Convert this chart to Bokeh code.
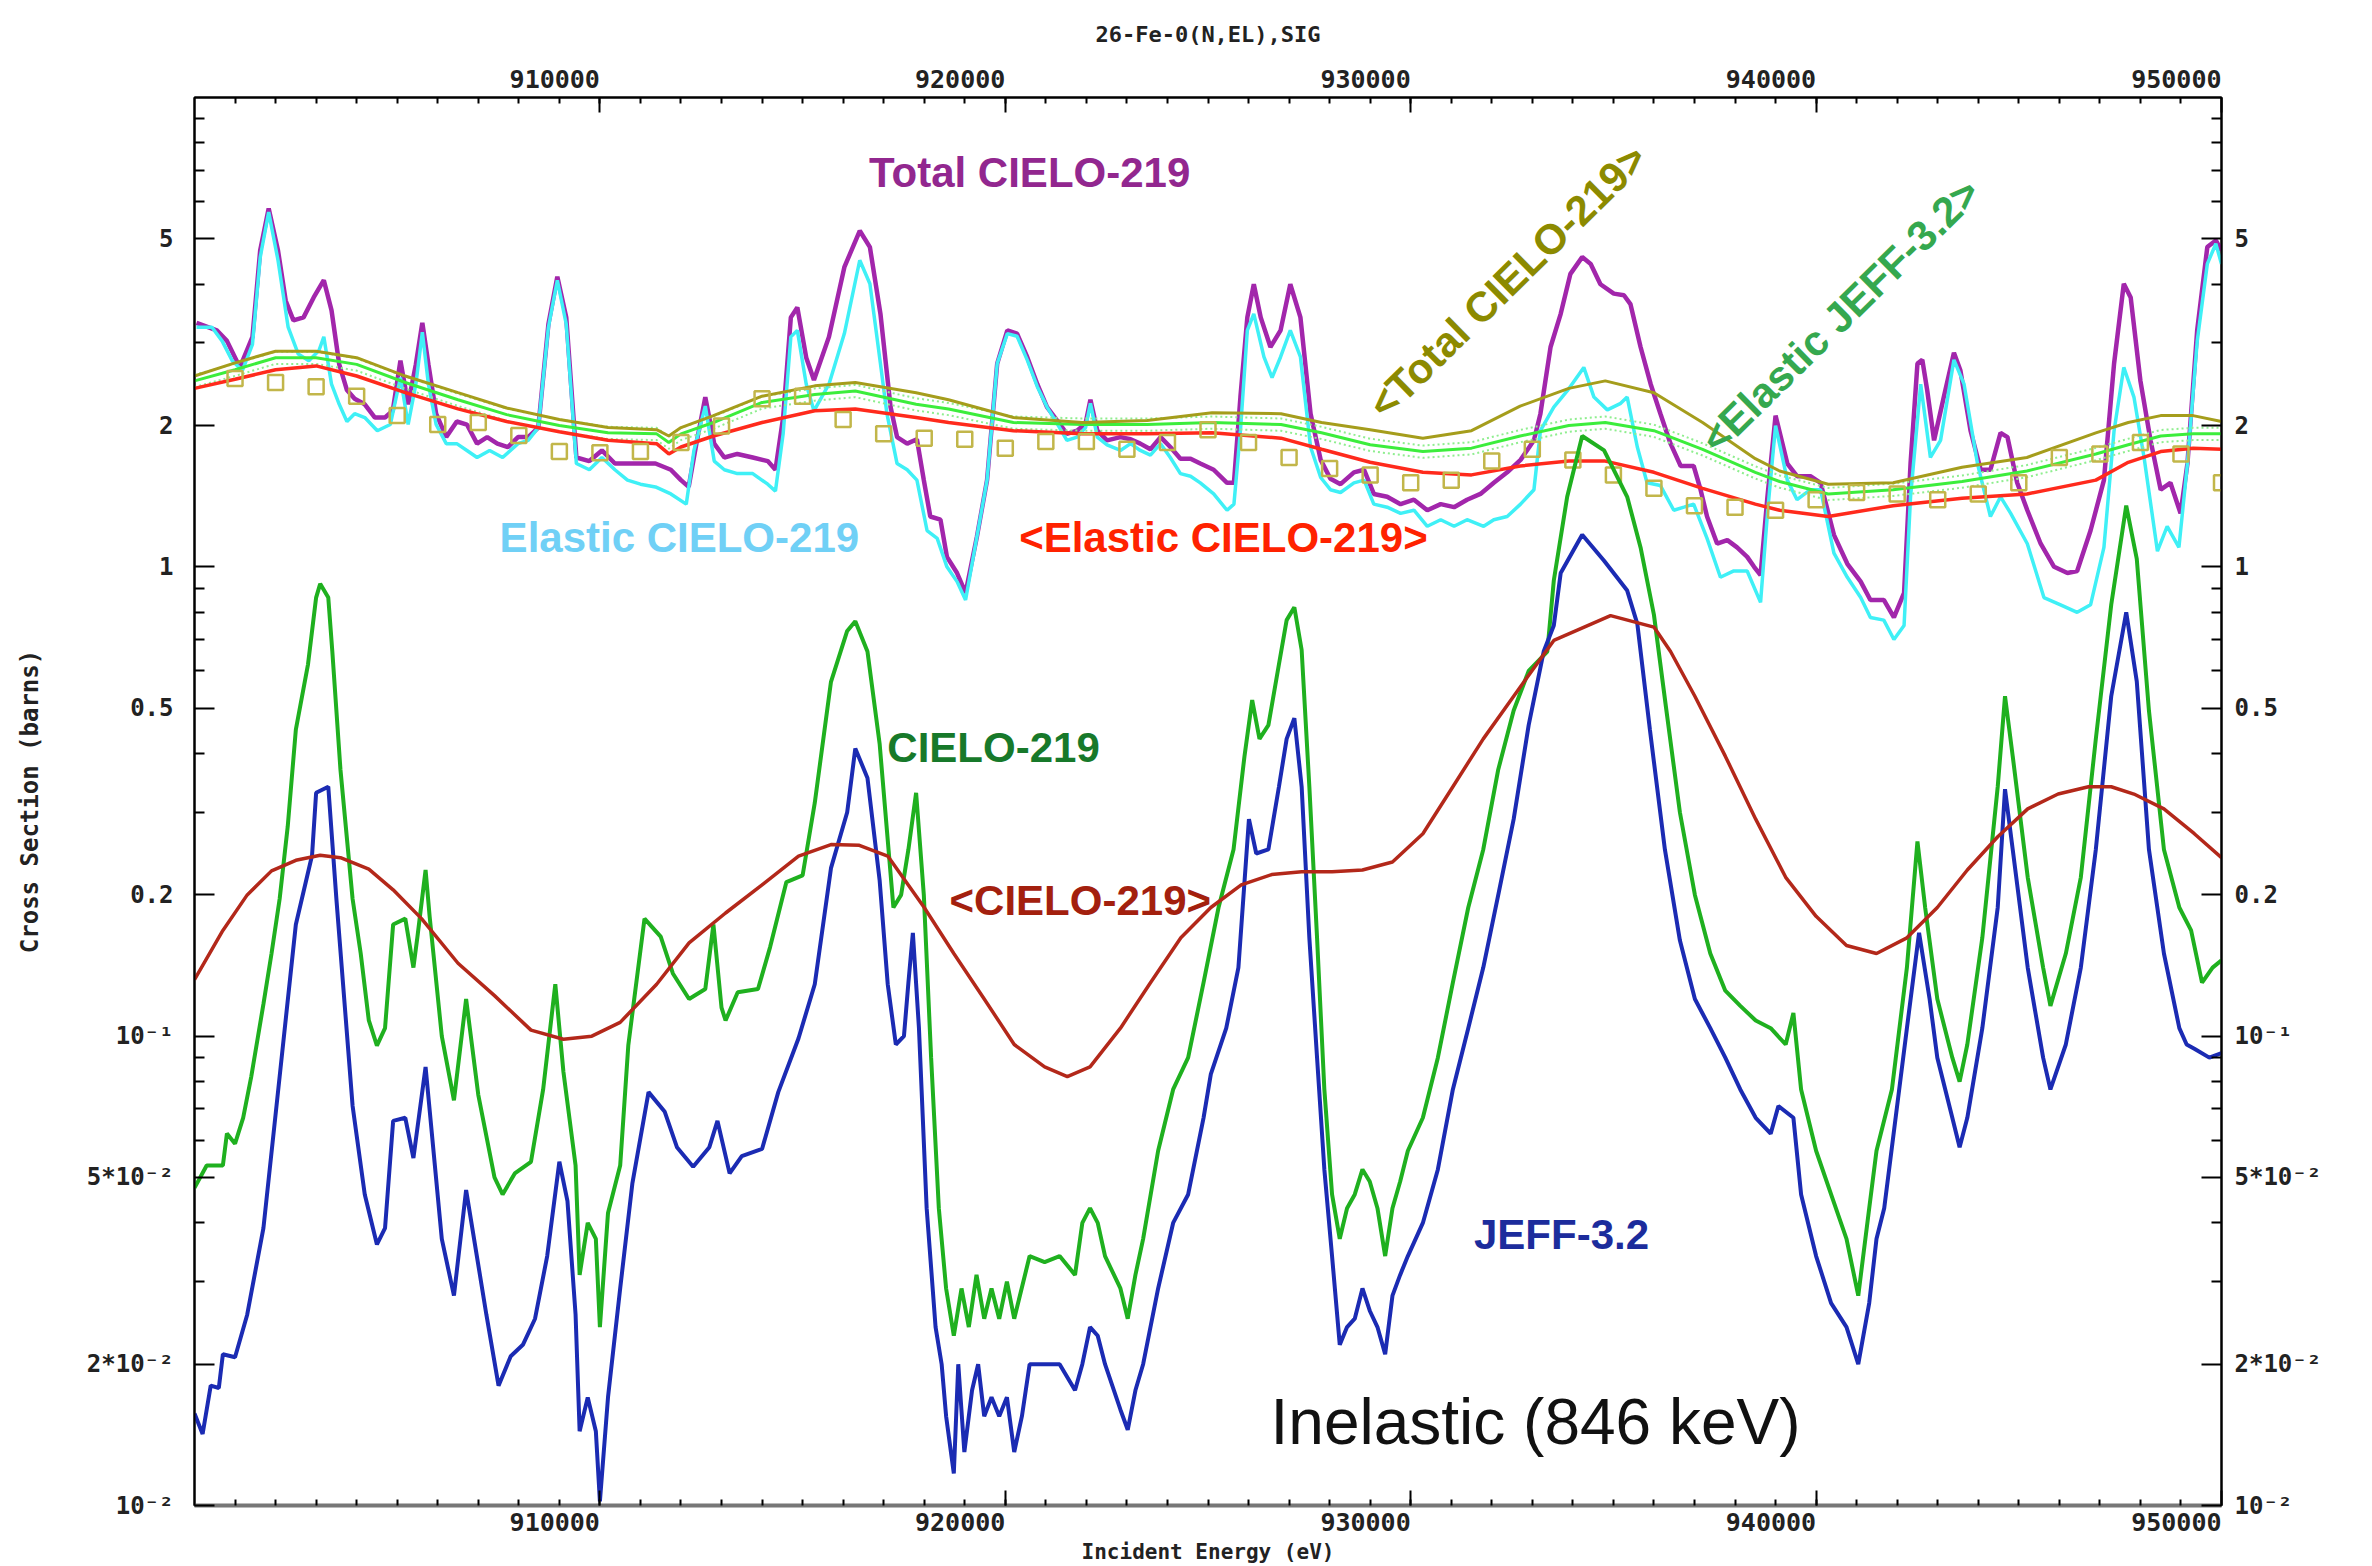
import numpy as np
from bokeh.plotting import figure
from bokeh.models import (LogAxis, LinearAxis, FixedTicker, Range1d, Label,
                          ColumnDataSource)
from bokeh.embed import file_html
from bokeh.resources import INLINE

# ---------------------------------------------------------------------------
# Energies in keV, cross sections in barns
# ---------------------------------------------------------------------------
total_e = [900.05, 900.55, 900.8, 901.12, 901.43, 901.62, 901.83, 902.06, 902.25, 902.44,
           902.69, 902.94, 903.19, 903.38, 903.57, 903.76, 903.95, 904.2, 904.45, 904.7,
           904.89, 905.08, 905.27, 905.46, 905.62, 905.77, 905.96, 906.21, 906.47, 906.72,
           906.97, 907.22, 907.47, 907.73, 907.98, 908.23, 908.48, 908.73, 908.95, 909.17,
           909.42, 909.74, 910.05, 910.37, 910.68, 911.0, 911.37, 911.75, 912.0, 912.19,
           912.38, 912.6, 912.82, 913.07, 913.39, 913.77, 914.14, 914.33, 914.52, 914.71,
           914.87, 915.09, 915.28, 915.65, 916.03, 916.41, 916.66, 916.92, 917.17, 917.33,
           917.58, 917.82, 917.99, 918.15, 918.4, 918.56, 918.81, 919.02, 919.3, 919.55,
           919.8, 920.05, 920.29, 920.54, 920.79, 921.03, 921.28, 921.52, 921.77, 921.98,
           922.1, 922.27, 922.51, 922.84, 923.09, 923.33, 923.58, 923.83, 924.07, 924.32,
           924.57, 924.81, 925.14, 925.47, 925.64, 925.8, 925.97, 926.13, 926.3, 926.54,
           926.79, 927.03, 927.28, 927.53, 927.78, 928.02, 928.27, 928.6, 928.85, 929.09,
           929.42, 929.75, 930.08, 930.41, 930.74, 931.07, 931.39, 931.72, 932.05, 932.38,
           932.71, 933.04, 933.2, 933.45, 933.7, 933.94, 934.23, 934.44, 934.68, 935.01,
           935.26, 935.42, 935.67, 935.92, 936.16, 936.41, 936.66, 936.98, 937.15, 937.31,
           937.56, 937.81, 938.05, 938.3, 938.47, 938.63, 938.8, 939.0, 939.29, 939.53,
           939.86, 940.11, 940.44, 940.77, 941.1, 941.34, 941.67, 941.92, 942.17, 942.33,
           942.5, 942.62, 942.74, 942.91, 943.15, 943.4, 943.56, 943.81, 944.06, 944.3,
           944.55, 944.72, 944.96, 945.21, 945.54, 945.87, 946.2, 946.44, 946.77, 947.1,
           947.35, 947.59, 947.76, 948.0, 948.25, 948.5, 948.74, 948.99, 949.16, 949.4,
           949.65, 949.86, 950.0]
total_xs = [3.31, 3.19, 3.03, 2.66, 3.09, 4.72, 5.8, 4.72, 3.69, 3.35,
            3.40, 3.75, 4.08, 3.52, 2.70, 2.38, 2.28, 2.22, 2.08, 2.08,
            2.15, 2.75, 2.22, 2.70, 3.31, 2.70, 2.12, 1.89, 2.04, 2.01,
            1.83, 1.89, 1.83, 1.80, 1.89, 1.89, 1.98, 3.29, 4.15, 3.40,
            1.71, 1.68, 1.77, 1.66, 1.66, 1.66, 1.66, 1.61, 1.53, 1.48,
            1.83, 2.30, 1.83, 1.71, 1.74, 1.71, 1.68, 1.61, 2.08, 3.40,
            3.57, 2.79, 2.50, 3.09, 4.35, 5.2, 4.8, 3.46, 2.19, 1.89,
            1.83, 1.87, 1.53, 1.28, 1.26, 1.05, 0.97, 0.88, 1.16, 1.53,
            2.71, 3.19, 3.14, 2.80, 2.45, 2.19, 2.05, 1.92, 1.95, 2.02,
            2.27, 1.95, 1.86, 1.89, 1.87, 1.83, 1.78, 1.89, 1.80, 1.70,
            1.70, 1.66, 1.61, 1.51, 1.51, 2.30, 3.40, 4.0, 3.40, 2.94,
            3.19, 4.0, 3.40, 2.12, 1.69, 1.54, 1.50, 1.59, 1.61, 1.43,
            1.41, 1.36, 1.39, 1.32, 1.36, 1.34, 1.39, 1.43, 1.51, 1.59,
            1.69, 1.86, 2.12, 2.94, 3.46, 4.21, 4.57, 4.42, 4.0, 3.82,
            3.79, 3.63, 2.94, 2.45, 2.12, 1.83, 1.64, 1.64, 1.46, 1.28,
            1.12, 1.14, 1.10, 1.05, 1.0, 0.96, 1.41, 2.10, 1.66, 1.56,
            1.56, 1.51, 1.17, 1.015, 0.93, 0.85, 0.85, 0.78, 0.88, 1.66,
            2.71, 2.76, 2.38, 1.86, 2.30, 2.86, 2.62, 1.95, 1.61, 1.61,
            1.93, 1.89, 1.51, 1.32, 1.12, 1.0, 0.97, 0.98, 1.195, 1.53,
            2.71, 4.01, 3.75, 2.49, 1.86, 1.46, 1.51, 1.30, 1.66, 3.19,
            4.80, 4.96, 4.72]

elastic_e = [900.05, 900.43, 900.68, 900.93, 901.18, 901.43, 901.62, 901.83, 902.06, 902.31,
             902.56, 902.82, 903.07, 903.19, 903.38, 903.57, 903.76, 903.95, 904.2, 904.51,
             904.83, 905.08, 905.27, 905.46, 905.62, 905.77, 905.96, 906.21, 906.47, 906.72,
             906.97, 907.28, 907.6, 907.98, 908.23, 908.48, 908.73, 908.95, 909.17, 909.42,
             909.74, 910.05, 910.37, 910.68, 911.0, 911.37, 911.75, 912.13, 912.32, 912.6,
             912.82, 913.07, 913.39, 913.77, 914.14, 914.33, 914.52, 914.71, 914.87, 915.09,
             915.28, 915.65, 916.03, 916.41, 916.66, 916.92, 917.08, 917.33, 917.58, 917.82,
             918.07, 918.32, 918.56, 918.81, 919.02, 919.3, 919.55, 919.8, 920.05, 920.29,
             920.54, 920.79, 921.03, 921.28, 921.52, 921.77, 921.98, 922.1, 922.27, 922.51,
             922.84, 923.09, 923.33, 923.58, 923.83, 924.07, 924.32, 924.57, 924.81, 925.14,
             925.47, 925.64, 925.8, 925.97, 926.13, 926.38, 926.58, 926.79, 927.03, 927.28,
             927.53, 927.78, 928.02, 928.27, 928.6, 928.85, 929.09, 929.42, 929.75, 930.08,
             930.41, 930.74, 931.07, 931.39, 931.8, 932.05, 932.38, 932.71, 933.04, 933.2,
             933.53, 933.86, 934.27, 934.52, 934.85, 935.18, 935.34, 935.59, 935.83, 936.16,
             936.49, 936.74, 936.98, 937.31, 937.64, 937.97, 938.3, 938.63, 938.8, 939.0,
             939.29, 939.53, 939.86, 940.11, 940.44, 940.77, 941.1, 941.34, 941.67, 941.92,
             942.17, 942.33, 942.58, 942.82, 943.07, 943.4, 943.65, 943.98, 944.3, 944.55,
             944.8, 945.21, 945.62, 946.03, 946.44, 946.77, 947.1, 947.35, 947.59, 947.84,
             948.09, 948.42, 948.66, 948.95, 949.16, 949.4, 949.65, 949.86, 950.0]
elastic_xs = [3.24, 3.24, 3.03, 2.75, 2.62, 2.98, 4.56, 5.7, 4.5, 3.24,
              2.84, 2.75, 2.89, 3.09, 2.45, 2.22, 2.04, 2.12, 2.08, 1.95,
              2.01, 2.53, 2.01, 2.45, 3.16, 2.45, 2.01, 1.83, 1.83, 1.77,
              1.71, 1.77, 1.71, 1.83, 1.86, 1.98, 3.24, 4.08, 3.29, 1.66,
              1.61, 1.71, 1.61, 1.53, 1.50, 1.48, 1.43, 1.36, 1.77, 2.20,
              1.68, 1.61, 1.58, 1.58, 1.50, 1.45, 1.92, 3.09, 3.19, 2.45,
              2.15, 2.45, 3.14, 4.5, 4.01, 2.71, 2.12, 1.66, 1.61, 1.53,
              1.195, 1.15, 1.0, 0.93, 0.85, 1.16, 1.53, 2.71, 3.14, 3.1,
              2.76, 2.42, 2.19, 2.02, 1.86, 1.89, 1.98, 2.23, 1.89, 1.82,
              1.77, 1.83, 1.77, 1.73, 1.83, 1.71, 1.58, 1.56, 1.51, 1.43,
              1.32, 1.36, 1.95, 3.19, 3.46, 2.80, 2.53, 2.80, 3.19, 2.80,
              1.80, 1.55, 1.46, 1.44, 1.51, 1.53, 1.36, 1.34, 1.30, 1.32,
              1.22, 1.26, 1.22, 1.26, 1.22, 1.26, 1.28, 1.36, 1.46, 1.95,
              2.19, 2.37, 2.66, 2.30, 2.16, 2.23, 2.30, 1.80, 1.51, 1.49,
              1.32, 1.34, 1.36, 1.15, 0.95, 0.98, 0.98, 0.84, 1.30, 2.0,
              1.53, 1.39, 1.46, 1.46, 1.07, 0.95, 0.86, 0.78, 0.77, 0.70,
              0.75, 1.41, 2.45, 1.71, 1.86, 2.76, 2.45, 1.66, 1.28, 1.41,
              1.30, 1.12, 0.86, 0.83, 0.80, 0.83, 1.10, 1.95, 2.66, 2.30,
              1.71, 1.08, 1.22, 1.10, 1.66, 3.02, 4.42, 4.88, 4.42]

# Group-averaged curves
avg_e = [900.0, 901.0, 902.0, 903.0, 904.0, 905.2, 906.5, 907.7, 909.0, 910.2,
         911.4, 911.7, 912.0, 912.8, 914.0, 915.3, 916.3, 917.8, 918.6, 920.2,
         921.9, 923.5, 925.1, 926.8, 927.8, 929.0, 930.3, 931.5, 932.7, 933.9,
         934.8, 936.0, 937.2, 938.5, 939.1, 940.3, 941.9, 943.6, 945.2, 946.9,
         947.7, 948.5, 949.3, 950.0]
avg_elastic_cielo = [2.40, 2.51, 2.63, 2.68, 2.55, 2.35, 2.17, 2.04, 1.94, 1.86,
                     1.83, 1.74, 1.80, 1.90, 2.03, 2.15, 2.17, 2.08, 2.03, 1.95,
                     1.92, 1.92, 1.93, 1.88, 1.78, 1.67, 1.59, 1.57, 1.64, 1.68,
                     1.68, 1.59, 1.47, 1.36, 1.32, 1.28, 1.35, 1.40, 1.43, 1.53,
                     1.67, 1.76, 1.79, 1.78]
avg_total_cielo = [2.55, 2.72, 2.88, 2.88, 2.79, 2.55, 2.35, 2.18, 2.06, 1.98,
                   1.96, 1.90, 1.98, 2.10, 2.31, 2.43, 2.47, 2.35, 2.27, 2.08,
                   2.03, 2.05, 2.13, 2.12, 2.03, 1.96, 1.88, 1.95, 2.20, 2.40,
                   2.49, 2.35, 2.03, 1.70, 1.60, 1.50, 1.51, 1.63, 1.71, 1.93,
                   2.03, 2.10, 2.10, 2.04]
avg_elastic_jeff = [2.49, 2.63, 2.79, 2.79, 2.70, 2.47, 2.27, 2.11, 2.00, 1.93,
                    1.92, 1.84, 1.92, 2.03, 2.24, 2.33, 2.37, 2.22, 2.17, 2.03,
                    2.01, 2.01, 2.03, 2.01, 1.93, 1.82, 1.76, 1.79, 1.90, 2.00,
                    2.03, 1.95, 1.78, 1.59, 1.52, 1.43, 1.46, 1.52, 1.60, 1.74,
                    1.82, 1.90, 1.92, 1.92]
jeff_band_frac = 0.03

# Binned elastic values, 1 keV steps
bin_e = list(range(901, 951))
bin_xs = [2.52, 2.47, 2.42, 2.31, 2.10, 2.01, 2.03, 1.905, 1.76, 1.75,
          1.76, 1.84, 1.995, 2.28, 2.31, 2.06, 1.92, 1.88, 1.87, 1.79,
          1.85, 1.85, 1.78, 1.84, 1.96, 1.84, 1.71, 1.62, 1.57, 1.51,
          1.53, 1.68, 1.78, 1.69, 1.57, 1.47, 1.35, 1.34, 1.32, 1.39,
          1.44, 1.43, 1.39, 1.43, 1.51, 1.71, 1.74, 1.84, 1.74, 1.51]

# Inelastic to the 846 keV level
inel_jeff_e = [900.0, 900.2, 900.4, 900.6, 900.7, 901.0, 901.3, 901.7, 902.1, 902.5,
               902.9, 903.0, 903.3, 903.5, 903.9, 904.2, 904.5, 904.7, 904.9, 905.2,
               905.4, 905.7, 906.1, 906.4, 906.7, 907.2, 907.5, 907.8, 908.1, 908.4,
               908.7, 909.0, 909.2, 909.4, 909.5, 909.7, 909.9, 910.0, 910.2, 910.5,
               910.8, 911.2, 911.6, 911.9, 912.3, 912.7, 912.9, 913.2, 913.5, 914.0,
               914.4, 914.9, 915.3, 915.7, 916.1, 916.3, 916.6, 916.9, 917.1, 917.3,
               917.5, 917.61, 917.72, 917.87, 918.06, 918.28, 918.43, 918.54, 918.73, 918.84,
               918.99, 919.18, 919.33, 919.48, 919.66, 919.85, 920.04, 920.22, 920.41, 920.6,
               920.97, 921.34, 921.72, 921.9, 922.09, 922.28, 922.46, 922.84, 923.02, 923.21,
               923.4, 923.77, 924.14, 924.51, 924.89, 925.07, 925.45, 925.75, 926.01, 926.19,
               926.49, 926.75, 926.94, 927.13, 927.31, 927.5, 927.69, 927.87, 928.06, 928.25,
               928.43, 928.62, 928.81, 928.99, 929.18, 929.37, 929.55, 929.74, 929.93, 930.3,
               930.67, 931.04, 931.42, 931.79, 932.16, 932.54, 932.91, 933.28, 933.53, 933.7,
               934.23, 934.77, 935.34, 935.59, 935.9, 936.27, 936.64, 937.01, 937.39, 937.76,
               938.13, 938.51, 938.88, 939.07, 939.44, 939.63, 940.0, 940.37, 940.75, 941.04,
               941.31, 941.49, 941.68, 941.87, 942.24, 942.54, 942.8, 942.99, 943.36, 943.54,
               943.73, 944.1, 944.48, 944.66, 944.85, 945.22, 945.6, 945.78, 946.16, 946.53,
               946.9, 947.28, 947.65, 947.91, 948.21, 948.58, 948.96, 949.14, 949.33, 949.7,
               950.0]
inel_jeff_xs = [0.0157, 0.0142, 0.018, 0.0178, 0.021, 0.0207, 0.0255, 0.039, 0.082, 0.173,
                0.243, 0.33, 0.34, 0.196, 0.071, 0.046, 0.036, 0.039, 0.066, 0.067,
                0.055, 0.086, 0.037, 0.028, 0.047, 0.0255, 0.018, 0.0208, 0.022, 0.025,
                0.034, 0.054, 0.0445, 0.0255, 0.0144, 0.017, 0.0144, 0.0102, 0.017, 0.029,
                0.0485, 0.076, 0.069, 0.058, 0.0527, 0.058, 0.066, 0.051, 0.0555, 0.0575,
                0.076, 0.099, 0.129, 0.228, 0.30, 0.41, 0.355, 0.215, 0.129, 0.096,
                0.10, 0.13, 0.166, 0.104, 0.043, 0.024, 0.02, 0.0155, 0.0117, 0.02,
                0.013, 0.0176, 0.02, 0.0155, 0.017, 0.0155, 0.017, 0.013, 0.0155, 0.02,
                0.02, 0.02, 0.0176, 0.02, 0.024, 0.023, 0.02, 0.016, 0.0145, 0.0176,
                0.02, 0.029, 0.040, 0.046, 0.067, 0.083, 0.104, 0.14, 0.29, 0.245,
                0.25, 0.34, 0.43, 0.476, 0.34, 0.162, 0.09, 0.052, 0.034, 0.022,
                0.024, 0.025, 0.029, 0.026, 0.024, 0.021, 0.028, 0.031, 0.034, 0.040,
                0.052, 0.077, 0.104, 0.14, 0.20, 0.29, 0.46, 0.66, 0.75, 0.97,
                1.17, 1.03, 0.89, 0.756, 0.45, 0.25, 0.16, 0.12, 0.104, 0.09,
                0.077, 0.067, 0.062, 0.071, 0.067, 0.046, 0.034, 0.027, 0.024, 0.02,
                0.027, 0.037, 0.043, 0.058, 0.104, 0.166, 0.12, 0.09, 0.067, 0.058,
                0.067, 0.104, 0.188, 0.336, 0.25, 0.14, 0.09, 0.077, 0.096, 0.14,
                0.25, 0.53, 0.80, 0.57, 0.25, 0.15, 0.104, 0.096, 0.094, 0.09,
                0.092]

inel_cielo_e = [900.0, 900.3, 900.7, 900.8, 901.0, 901.2, 901.4, 901.7, 901.9, 902.1,
                902.3, 902.5, 902.8, 903.0, 903.1, 903.3, 903.4, 903.6, 903.9, 904.1,
                904.3, 904.5, 904.7, 904.9, 905.2, 905.4, 905.5, 905.7, 905.8, 906.1,
                906.4, 906.7, 907.0, 907.4, 907.6, 907.9, 908.3, 908.6, 908.9, 909.1,
                909.4, 909.5, 909.7, 909.9, 910.0, 910.2, 910.5, 910.7, 911.1, 911.5,
                911.8, 912.2, 912.6, 912.8, 913.0, 913.1, 913.4, 913.9, 914.2, 914.6,
                915.0, 915.3, 915.7, 916.1, 916.3, 916.6, 916.9, 917.24, 917.43, 917.61,
                917.8, 917.99, 918.17, 918.36, 918.54, 918.73, 918.92, 919.1, 919.29, 919.48,
                919.66, 919.85, 920.04, 920.22, 920.6, 920.97, 921.34, 921.72, 921.9, 922.09,
                922.28, 922.46, 922.84, 923.02, 923.21, 923.4, 923.77, 924.14, 924.51, 924.89,
                925.26, 925.63, 925.9, 926.09, 926.27, 926.49, 926.75, 926.94, 927.13, 927.31,
                927.5, 927.69, 927.87, 928.06, 928.25, 928.43, 928.62, 928.81, 928.99, 929.18,
                929.37, 929.55, 929.74, 929.93, 930.3, 930.67, 931.04, 931.42, 931.79, 932.16,
                932.54, 932.91, 933.37, 933.53, 933.86, 934.23, 934.77, 935.34, 935.67, 936.0,
                936.3, 936.64, 937.01, 937.39, 937.76, 938.13, 938.51, 938.88, 939.25, 939.44,
                939.63, 940.0, 940.37, 940.75, 941.04, 941.31, 941.49, 941.87, 942.24, 942.5,
                942.69, 942.99, 943.36, 943.54, 943.73, 944.1, 944.48, 944.66, 944.85, 945.22,
                945.6, 945.78, 946.16, 946.53, 946.9, 947.28, 947.65, 947.91, 948.21, 948.58,
                948.96, 949.25, 949.52, 949.78, 950.0]
inel_cielo_xs = [0.0475, 0.053, 0.053, 0.062, 0.059, 0.067, 0.082, 0.117, 0.15, 0.196,
                 0.28, 0.45, 0.62, 0.86, 0.92, 0.86, 0.66, 0.37, 0.196, 0.15,
                 0.108, 0.0955, 0.104, 0.173, 0.178, 0.14, 0.163, 0.226, 0.18, 0.10,
                 0.073, 0.12, 0.075, 0.05, 0.046, 0.051, 0.054, 0.077, 0.129, 0.084,
                 0.053, 0.031, 0.04, 0.037, 0.024, 0.042, 0.053, 0.0955, 0.178, 0.163,
                 0.136, 0.12, 0.126, 0.173, 0.115, 0.108, 0.124, 0.126, 0.155, 0.213,
                 0.22, 0.314, 0.569, 0.73, 0.766, 0.66, 0.42, 0.188, 0.20, 0.25,
                 0.33, 0.20, 0.09, 0.043, 0.029, 0.023, 0.029, 0.024, 0.031, 0.025,
                 0.029, 0.025, 0.030, 0.025, 0.034, 0.033, 0.034, 0.031, 0.040, 0.043,
                 0.040, 0.034, 0.029, 0.025, 0.031, 0.037, 0.057, 0.077, 0.09, 0.13,
                 0.188, 0.25, 0.395, 0.52, 0.43, 0.46, 0.62, 0.77, 0.82, 0.665,
                 0.34, 0.162, 0.077, 0.046, 0.037, 0.043, 0.046, 0.052, 0.049, 0.043,
                 0.034, 0.043, 0.049, 0.057, 0.067, 0.09, 0.13, 0.188, 0.25, 0.37,
                 0.494, 0.60, 0.66, 0.935, 1.41, 1.90, 1.77, 1.41, 1.10, 0.79,
                 0.50, 0.30, 0.20, 0.15, 0.125, 0.116, 0.108, 0.104, 0.096, 0.112,
                 0.077, 0.057, 0.046, 0.037, 0.028, 0.043, 0.057, 0.077, 0.14, 0.26,
                 0.188, 0.12, 0.09, 0.08, 0.096, 0.162, 0.34, 0.53, 0.395, 0.218,
                 0.14, 0.116, 0.15, 0.218, 0.43, 0.83, 1.35, 1.04, 0.494, 0.25,
                 0.188, 0.168, 0.13, 0.14, 0.145]

inel_avg_e = [900.0, 900.7, 901.3, 901.9, 902.5, 903.1, 903.6, 904.3, 904.9, 905.6,
              906.5, 907.4, 908.3, 909.1, 909.8, 910.5, 911.4, 912.2, 913.1, 914.0,
              914.9, 915.7, 916.4, 917.1, 918.0, 918.73, 919.48, 920.22, 920.97, 921.53,
              922.09, 922.84, 923.58, 924.33, 925.07, 925.82, 926.57, 927.31, 928.06, 928.81,
              929.55, 930.3, 931.04, 931.79, 932.54, 933.53, 934.93, 936.0, 936.41, 937.01,
              937.76, 938.51, 939.25, 940.0, 940.75, 941.49, 942.24, 942.99, 943.73, 944.48,
              945.22, 945.97, 946.72, 947.28, 947.84, 948.58, 949.33, 950.0]
inel_avg_xs = [0.132, 0.168, 0.20, 0.225, 0.237, 0.243, 0.24, 0.227, 0.205, 0.178,
               0.143, 0.122, 0.103, 0.0985, 0.10, 0.107, 0.129, 0.158, 0.183, 0.21,
               0.242, 0.256, 0.255, 0.242, 0.188, 0.15, 0.12, 0.096, 0.086, 0.082,
               0.086, 0.104, 0.13, 0.162, 0.188, 0.21, 0.221, 0.224, 0.224, 0.226,
               0.235, 0.27, 0.34, 0.43, 0.53, 0.697, 0.787, 0.744, 0.66, 0.53,
               0.395, 0.29, 0.218, 0.18, 0.156, 0.15, 0.162, 0.188, 0.226, 0.266,
               0.305, 0.328, 0.34, 0.34, 0.328, 0.305, 0.27, 0.24]

# Axis ticks
x_major = [910000, 920000, 930000, 940000, 950000]
x_minor = list(range(901000, 950000, 1000))
y_major = [0.01, 0.02, 0.05, 0.1, 0.2, 0.5, 1, 2, 5]
y_minor = [0.03, 0.04, 0.06, 0.07, 0.08, 0.09, 0.3, 0.4, 0.6, 0.7, 0.8, 0.9,
           3, 4, 6, 7, 8, 9]
y_labels = {0.01: "10\u207b\u00b2", 0.02: "2*10\u207b\u00b2", 0.05: "5*10\u207b\u00b2",
            0.1: "10\u207b\u00b9", 0.2: "0.2", 0.5: "0.5", 1: "1", 2: "2", 5: "5"}

KEV = 1000.0
TICK_FONT = "DejaVu Sans Mono"
NB = "\u00a0"

p = figure(width=2372, height=1566, y_axis_type="log",
           x_range=Range1d(900000, 950000), y_range=Range1d(0.01, 10),
           output_backend="svg", toolbar_location=None,
           min_border_left=194, min_border_right=151,
           min_border_top=97, min_border_bottom=61,
           background_fill_color="white", border_fill_color="white")
p.xgrid.visible = False
p.ygrid.visible = False
p.outline_line_color = "black"
p.outline_line_width = 2

p.title.text = "26-Fe-0(N,EL),SIG"
p.title.align = "center"
p.title.text_font = TICK_FONT
p.title.text_font_size = "22px"
p.title.text_font_style = "bold"
p.title.text_color = "#222222"
p.title.standoff = 29

x_ticker = FixedTicker(ticks=x_major, minor_ticks=x_minor)
x_labels = {v: str(v) + NB * 6 for v in x_major}
y_ticker = FixedTicker(ticks=y_major, minor_ticks=y_minor)


def style_axis(ax, standoff, tick_in, minor_in, size="24px"):
    ax.axis_line_color = "black"
    ax.axis_line_width = 2
    ax.major_tick_in = tick_in
    ax.major_tick_out = 0
    ax.minor_tick_in = minor_in
    ax.minor_tick_out = 0
    ax.major_tick_line_color = "black"
    ax.major_tick_line_width = 2
    ax.minor_tick_line_color = "black"
    ax.minor_tick_line_width = 2
    ax.major_label_text_font = TICK_FONT
    ax.major_label_text_font_style = "bold"
    ax.major_label_text_font_size = size
    ax.major_label_text_color = "#222222"
    ax.major_label_standoff = standoff


xb = p.xaxis[0]
xb.ticker = x_ticker
xb.major_label_overrides = x_labels
style_axis(xb, 2, 15, 6, size="25px")
xb.axis_line_color = "#777777"
xb.axis_line_width = 4
xb.axis_label = "Incident Energy (eV)"
xb.axis_label_text_font = TICK_FONT
xb.axis_label_text_font_size = "21px"
xb.axis_label_text_font_style = "bold"
xb.axis_label_text_color = "#222222"
xb.axis_label_standoff = 0

xt = LinearAxis(ticker=x_ticker, major_label_overrides=x_labels)
style_axis(xt, 4, 15, 6, size="25px")
p.add_layout(xt, "above")

yl = p.yaxis[0]
yl.ticker = y_ticker
yl.major_label_overrides = y_labels
style_axis(yl, 21, 20, 10)
yl.axis_label = "Cross Section (barns)"
yl.axis_label_text_font = TICK_FONT
yl.axis_label_text_font_size = "24px"
yl.axis_label_text_font_style = "bold"
yl.axis_label_text_color = "#222222"
yl.axis_label_standoff = 40

yr = LogAxis(ticker=y_ticker, major_label_overrides=y_labels)
style_axis(yr, 13, 20, 10)
p.add_layout(yr, "right")


def src(e, v):
    return ColumnDataSource(dict(x=np.asarray(e) * KEV, y=np.asarray(v)))


# Upper group: total / elastic and their averages
p.line("x", "y", source=src(total_e, total_xs), line_color="#a226ab", line_width=4.5)
p.line("x", "y", source=src(elastic_e, elastic_xs), line_color="#3ff0f6", line_width=3.5)

jeff = np.asarray(avg_elastic_jeff)
p.line("x", "y", source=src(avg_e, jeff * (1 + jeff_band_frac)),
       line_color="#8fee8f", line_width=2, line_dash="2 3")
p.line("x", "y", source=src(avg_e, jeff * (1 - jeff_band_frac)),
       line_color="#8fee8f", line_width=2, line_dash="2 3")
p.line("x", "y", source=src(avg_e, avg_elastic_jeff), line_color="#3ced3c", line_width=3)
p.line("x", "y", source=src(avg_e, avg_total_cielo), line_color="#a59d1c", line_width=3)
p.line("x", "y", source=src(avg_e, avg_elastic_cielo), line_color="#ff2a1c", line_width=3.5)

p.scatter("x", "y", source=src(bin_e, bin_xs), marker="square", size=15,
          fill_color=None, line_color="#c2b64a", line_width=2.5)

# Lower group: inelastic
p.line("x", "y", source=src(inel_cielo_e, inel_cielo_xs), line_color="#1fb01f", line_width=4)
p.line("x", "y", source=src(inel_jeff_e, inel_jeff_xs), line_color="#1b2bb3", line_width=4)
p.line("x", "y", source=src(inel_avg_e, inel_avg_xs), line_color="#b3281a", line_width=3.5)

LBL_FONT = "Liberation Sans"


def add_label(text, e_kev, y, color, size="42px", angle=0.0, style="bold"):
    p.add_layout(Label(x=e_kev * KEV, y=y, text=text, text_color=color,
                       text_font=LBL_FONT, text_font_size=size, text_font_style=style,
                       text_align="center", text_baseline="middle", angle=angle))


add_label("Total CIELO-219", 920.6, 6.92, "#92278f")
add_label("Elastic CIELO-219", 911.96, 1.155, "#70d0f6")
add_label("<Elastic CIELO-219>", 925.38, 1.155, "#ff2200")
add_label("CIELO-219", 919.71, 0.412, "#17792a")
add_label("<CIELO-219>", 921.85, 0.1945, "#a3200e")
add_label("JEFF-3.2", 933.72, 0.0378, "#1c2c9c")
add_label("Inelastic (846 keV)", 933.08, 0.01503, "#111111", size="64px", style="normal")
add_label("<Total CIELO-219>", 932.39, 4.06, "#8c8a00", angle=np.deg2rad(44.5))
add_label("<Elastic JEFF-3.2>", 940.6, 3.43, "#35a84f", angle=np.deg2rad(44.5))

open("out.html", "w").write(file_html(p, INLINE))
